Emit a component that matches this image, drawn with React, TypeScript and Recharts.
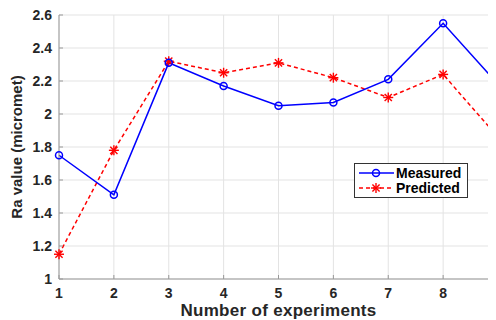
import { LineChart, Line, XAxis, YAxis, CartesianGrid } from "recharts";

const experiments = [1, 2, 3, 4, 5, 6, 7, 8, 9];
const measured = [1.75, 1.51, 2.31, 2.17, 2.05, 2.07, 2.21, 2.55, 2.18];
const predicted = [1.15, 1.78, 2.32, 2.25, 2.31, 2.22, 2.1, 2.24, 1.86];
const yTicks = [1, 1.2, 1.4, 1.6, 1.8, 2, 2.2, 2.4, 2.6];

const data = experiments.map((n, i) => ({ n, measured: measured[i], predicted: predicted[i] }));

const font = '"Liberation Sans", Arial, sans-serif';
const tickStyle = { fontSize: 14, fontWeight: 700, fill: "#262626", fontFamily: font };
const axisStroke = { stroke: "#999" };

const Star = (p: any) => {
  const { cx, cy } = p;
  if (cx == null || cy == null) return null;
  const r = 5, d = 3.6;
  return (
    <g stroke="#ff0000" strokeWidth={1.4}>
      <line x1={cx - r} y1={cy} x2={cx + r} y2={cy} />
      <line x1={cx} y1={cy - r} x2={cx} y2={cy + r} />
      <line x1={cx - d} y1={cy - d} x2={cx + d} y2={cy + d} />
      <line x1={cx - d} y1={cy + d} x2={cx + d} y2={cy - d} />
    </g>
  );
};

function LegendBox() {
  return (
    <svg width={114} height={35} style={{ position: "absolute", left: 346, top: 155 }}>
      <rect x={0.5} y={0.5} width={113} height={34} fill="#fff" stroke="#333" />
      <line x1={5} y1={10} x2={40} y2={10} stroke="#0000ff" strokeWidth={1.5} />
      <circle cx={22} cy={10} r={3.5} fill="none" stroke="#0000ff" strokeWidth={1.5} />
      <line x1={5} y1={25} x2={40} y2={25} stroke="#ff0000" strokeWidth={1.5} strokeDasharray="4 3" />
      <Star cx={22} cy={25} />
      <text x={42} y={15} fontSize={14} fontWeight={700} fontFamily={font} fill="#000">Measured</text>
      <text x={42} y={30} fontSize={14} fontWeight={700} fontFamily={font} fill="#000">Predicted</text>
    </svg>
  );
}

export default function App() {
  return (
    <div style={{ position: "relative", width: 488, height: 312, overflow: "hidden", background: "#fff" }}>
      <LineChart width={500} height={312} data={data} margin={{ top: 7, right: 10, bottom: 0, left: 0 }}>
        <CartesianGrid stroke="#e3e3e3" vertical horizontal />
        <XAxis
          dataKey="n" type="number" domain={[1, 9]} ticks={experiments} height={41}
          tick={tickStyle} tickLine={axisStroke} tickSize={-4} tickMargin={13}
          axisLine={axisStroke}
          label={{ value: "Number of experiments", position: "insideBottom", offset: 4,
            style: { fontSize: 17, fontWeight: 700, fill: "#262626", fontFamily: font, letterSpacing: 0.3 } }}
        />
        <XAxis xAxisId="top" orientation="top" dataKey="n" type="number" domain={[1, 9]} ticks={experiments}
          height={0} tick={false} tickLine={axisStroke} tickSize={-4} axisLine={axisStroke} />
        <YAxis
          domain={[1, 2.6]} ticks={yTicks} width={51} interval={0}
          tick={tickStyle} tickLine={axisStroke} tickSize={-4} tickMargin={11}
          axisLine={axisStroke}
          label={{ value: "Ra value (micromet)", angle: -90, position: "insideLeft", offset: 9,
            style: { textAnchor: "middle", fontSize: 15, fontWeight: 700, fill: "#262626", fontFamily: font } }}
        />
        <YAxis yAxisId="right" orientation="right" domain={[1, 2.6]} ticks={yTicks} width={0}
          tick={false} tickLine={axisStroke} tickSize={-4} axisLine={axisStroke} />
        <Line dataKey="predicted" stroke="#ff0000" strokeWidth={1.5} strokeDasharray="4 3"
          dot={<Star />} activeDot={false} isAnimationActive={false} />
        <Line dataKey="measured" stroke="#0000ff" strokeWidth={1.5}
          dot={{ r: 3.5, fill: "none", stroke: "#0000ff", strokeWidth: 1.5 }} activeDot={false} isAnimationActive={false} />
      </LineChart>
      <LegendBox />
    </div>
  );
}
